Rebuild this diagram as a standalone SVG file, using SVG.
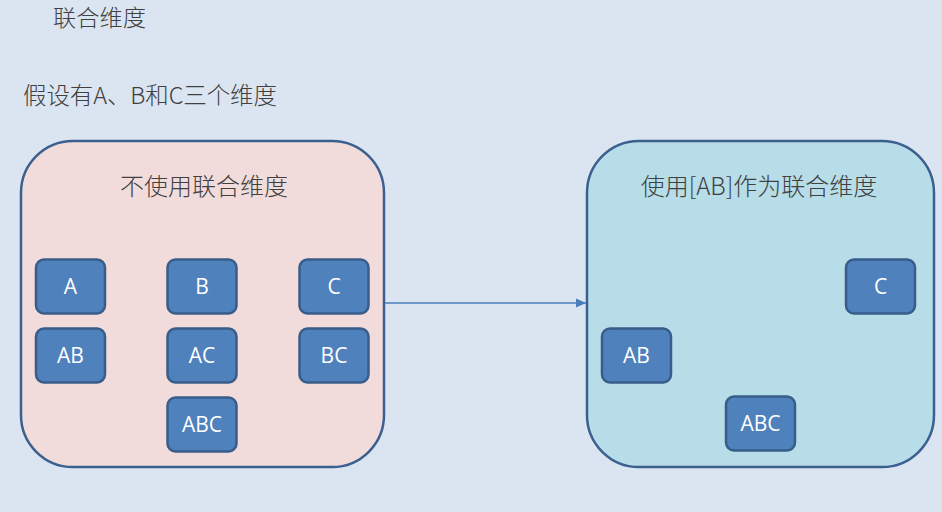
<svg xmlns="http://www.w3.org/2000/svg" width="942" height="512" viewBox="0 0 942 512">
<defs>
<style>
.bg{fill:#dbe5f1}
.cont{stroke:#3b5f8f;stroke-width:2.5}
.box{fill:#4f81bd;stroke:#385d8a;stroke-width:2.5}
.lbl{fill:#ffffff;font-family:"Open Sans","Noto Sans",sans-serif;font-size:21px;text-anchor:middle}
.cjk{fill:#404040;font-family:"Noto Sans CJK SC","Open Sans",sans-serif;font-size:23.5px;font-weight:300}
.ttl{font-size:24px;text-anchor:middle}
.conn{stroke:#4a7ebb;stroke-width:1.5;fill:none}
</style>
<marker id="arr" markerWidth="12" markerHeight="12" refX="10" refY="6" orient="auto" markerUnits="userSpaceOnUse">
<path d="M0,1.5 L10,6 L0,10.5 Z" fill="#4a7ebb"/>
</marker>
</defs>
<rect class="bg" x="0" y="0" width="942" height="512"/>
<text class="cjk" x="53" y="26" textLength="93" lengthAdjust="spacingAndGlyphs" style="font-size:22.5px">联合维度</text>
<text class="cjk" x="23" y="104" textLength="254" lengthAdjust="spacing">假设有A、B和C三个维度</text>

<g id="left-container">
<rect class="cont" x="21" y="141" width="363" height="326" rx="52" fill="#f2dcdb"/>
<text class="cjk ttl" x="204" y="195">不使用联合维度</text>
</g>
<g id="right-container">
<rect class="cont" x="587" y="141" width="347" height="326" rx="52" fill="#b7dde8"/>
<text class="cjk ttl" x="759" y="195">使用[AB]作为联合维度</text>
</g>

<g id="conn">
<line class="conn" x1="385" y1="303" x2="586" y2="303" marker-end="url(#arr)"/>
</g>

<g id="L-A"><rect class="box" x="36" y="259.5" width="69" height="54" rx="8"/><text class="lbl" x="70.5" y="294">A</text></g>
<g id="L-B"><rect class="box" x="167.5" y="259.5" width="69" height="54" rx="8"/><text class="lbl" x="202" y="294">B</text></g>
<g id="L-C"><rect class="box" x="299.5" y="259.5" width="69" height="54" rx="8"/><text class="lbl" x="334" y="294">C</text></g>
<g id="L-AB"><rect class="box" x="36" y="328.5" width="69" height="54" rx="8"/><text class="lbl" x="70.5" y="363">AB</text></g>
<g id="L-AC"><rect class="box" x="167.5" y="328.5" width="69" height="54" rx="8"/><text class="lbl" x="202" y="363">AC</text></g>
<g id="L-BC"><rect class="box" x="299.5" y="328.5" width="69" height="54" rx="8"/><text class="lbl" x="334" y="363">BC</text></g>
<g id="L-ABC"><rect class="box" x="167.5" y="397.5" width="69" height="54" rx="8"/><text class="lbl" x="202" y="432">ABC</text></g>

<g id="R-C"><rect class="box" x="846" y="259.5" width="69" height="54" rx="8"/><text class="lbl" x="880.5" y="294">C</text></g>
<g id="R-AB"><rect class="box" x="602" y="328.5" width="69" height="54" rx="8"/><text class="lbl" x="636.5" y="363">AB</text></g>
<g id="R-ABC"><rect class="box" x="726" y="396.5" width="69" height="54" rx="8"/><text class="lbl" x="760.5" y="431">ABC</text></g>
</svg>
